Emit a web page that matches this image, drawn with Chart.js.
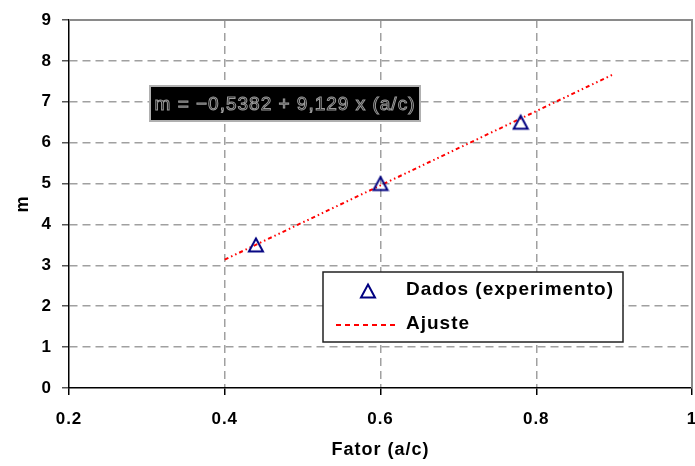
<!DOCTYPE html>
<html>
<head>
<meta charset="utf-8">
<script src="https://cdn.jsdelivr.net/npm/chart.js@4/dist/chart.umd.min.js"></script>
<style>
html, body { margin: 0; padding: 0; background: #fff; }
</style>
</head>
<body>
<canvas id="myChart" width="695" height="466"></canvas>
<script>
// data
const fatorDados = [0.44, 0.6, 0.78];
const mDados = [3.5, 5.0, 6.5];
const fatorAjuste = [0.4, 0.9];
const mAjuste = [3.14, 7.68];
const xTicks = [0.2, 0.4, 0.6, 0.8, 1];
const yTicks = [0, 1, 2, 3, 4, 5, 6, 7, 8, 9];
const equacao = 'm = \u22120,5382 + 9,129 x (a/c)';

Chart.defaults.font.family = '"Liberation Sans", Arial, sans-serif';
Chart.defaults.color = '#000';

// hollow triangle marker, centred on its bounding box like Excel does
function makeTriangle(color) {
    const c = document.createElement('canvas');
    c.width = 18;
    c.height = 18;
    const g = c.getContext('2d');
    g.strokeStyle = color;
    g.lineWidth = 2;
    g.lineJoin = 'miter';
    g.beginPath();
    g.moveTo(9, 2.5);
    g.lineTo(16, 15.5);
    g.lineTo(2, 15.5);
    g.closePath();
    g.stroke();
    return c;
}
const triangulo = makeTriangle('#000080');

const extras = {
    id: 'extras',
    beforeDraw(chart) {
        chart.ctx.letterSpacing = '1px';
    },
    beforeDatasetsDraw(chart) {
        const { ctx, chartArea: a } = chart;
        ctx.save();
        ctx.strokeStyle = '#8a8a8a';
        ctx.lineWidth = 2;
        ctx.beginPath();
        ctx.moveTo(a.left, a.top);
        ctx.lineTo(a.right, a.top);
        ctx.lineTo(a.right, a.bottom);
        ctx.stroke();
        ctx.restore();
    },
    afterDraw(chart) {
        const { ctx, chartArea: a } = chart;
        const ds = chart.data.datasets;
        ctx.save();

        // equation box
        const ex = a.left + 81, ey = a.top + 66, ew = 270, eh = 35;
        ctx.fillStyle = '#000';
        ctx.fillRect(ex, ey, ew, eh);
        ctx.strokeStyle = '#b0b0b0';
        ctx.lineWidth = 2;
        ctx.strokeRect(ex, ey, ew, eh);
        ctx.font = '19px "Liberation Sans", Arial, sans-serif';
        ctx.letterSpacing = '1px';
        ctx.textAlign = 'center';
        ctx.textBaseline = 'middle';
        ctx.strokeStyle = '#9a9a9a';
        ctx.lineWidth = 1;
        ctx.strokeText(equacao, ex + ew / 2, ey + eh / 2 + 1);

        // legend box
        const lx = a.left + 254, ly = a.top + 252, lw = 300, lh = 70;
        ctx.fillStyle = '#fff';
        ctx.fillRect(lx, ly, lw, lh);
        ctx.strokeStyle = '#222';
        ctx.lineWidth = 1.5;
        ctx.strokeRect(lx, ly, lw, lh);

        // marker sample
        ctx.drawImage(ds[0].pointStyle, lx + 36, ly + 10);

        // dashed fit line sample
        ctx.strokeStyle = ds[1].borderColor;
        ctx.lineWidth = 2;
        ctx.setLineDash([5, 4]);
        ctx.beginPath();
        ctx.moveTo(lx + 13, ly + 53);
        ctx.lineTo(lx + 75, ly + 53);
        ctx.stroke();
        ctx.setLineDash([]);

        ctx.fillStyle = '#000';
        ctx.font = 'bold 19px "Liberation Sans", Arial, sans-serif';
        ctx.textAlign = 'left';
        ctx.fillText(ds[0].label, lx + 83, ly + 18);
        ctx.fillText(ds[1].label, lx + 83, ly + 52);
        ctx.restore();
    }
};

const ctx = document.getElementById('myChart').getContext('2d');
const myChart = new Chart(ctx, {
    type: 'scatter',
    data: {
        datasets: [{
            label: 'Dados (experimento)',
            data: fatorDados.map((x, i) => ({ x: x, y: mDados[i] })),
            pointStyle: triangulo,
            pointRadius: 9,
            borderColor: '#000080',
            backgroundColor: 'rgba(0,0,0,0)'
        }, {
            label: 'Ajuste',
            data: fatorAjuste.map((x, i) => ({ x: x, y: mAjuste[i] })),
            showLine: true,
            pointRadius: 0,
            borderColor: '#ff0000',
            borderWidth: 2,
            borderDash: [4, 3, 1.5, 3, 1.5, 3]
        }]
    },
    options: {
        responsive: false,
        animation: false,
        layout: {
            autoPadding: false,
            padding: { left: 0, right: 3, top: 20, bottom: 0 }
        },
        plugins: {
            legend: { display: false },
            tooltip: { enabled: false }
        },
        scales: {
            x: {
                type: 'linear',
                min: 0.2,
                max: 1,
                afterBuildTicks: (scale) => { scale.ticks = xTicks.map(v => ({ value: v })); },
                afterFit: (scale) => {
                    scale.height = 78;
                    scale.paddingLeft = 0;
                    scale.paddingRight = 0;
                },
                ticks: {
                    padding: 14,
                    maxRotation: 0,
                    font: { size: 17, weight: 'bold' },
                    callback: (v) => String(Math.round(v * 10) / 10)
                },
                grid: {
                    color: (c) => (c.tick && (c.tick.value === 0.4 || c.tick.value === 0.6 || c.tick.value === 0.8)) ? '#a0a0a0' : 'rgba(0,0,0,0)',
                    lineWidth: 1.5,
                    tickColor: '#000',
                    tickLength: 7
                },
                border: { color: '#000', width: 1.5, dash: [8, 5] },
                title: {
                    display: true,
                    text: 'Fator (a/c)',
                    font: { size: 18, weight: 'bold' },
                    padding: { top: 0, bottom: 5 }
                }
            },
            y: {
                min: 0,
                max: 9,
                afterBuildTicks: (scale) => { scale.ticks = yTicks.map(v => ({ value: v })); },
                afterFit: (scale) => {
                    scale.width = 69;
                    scale.paddingTop = 0;
                    scale.paddingBottom = 0;
                },
                ticks: {
                    padding: 10,
                    font: { size: 17, weight: 'bold' }
                },
                grid: {
                    color: (c) => (c.tick && c.tick.value > 0 && c.tick.value < 9) ? '#a0a0a0' : 'rgba(0,0,0,0)',
                    lineWidth: 1.5,
                    tickColor: '#555',
                    tickLength: 7
                },
                border: { color: '#000', width: 1.5, dash: [8, 5] },
                title: {
                    display: true,
                    text: 'm',
                    font: { size: 18, weight: 'bold' },
                    padding: { top: 12, bottom: 0 }
                }
            }
        }
    },
    plugins: [extras]
});
</script>
</body>
</html>
